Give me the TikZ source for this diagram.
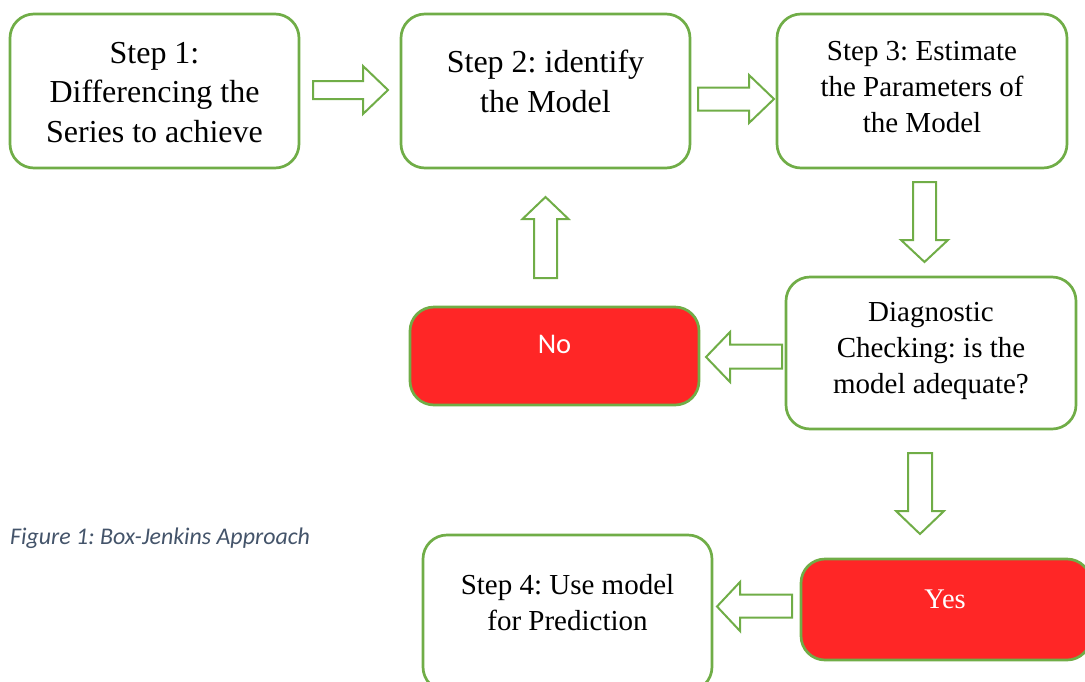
\documentclass[tikz,border=0pt]{standalone}
\usepackage{fontspec}
\setmainfont{Liberation Serif}
\newfontfamily\calibri{Carlito}
\definecolor{boxgreen}{HTML}{70AD47}
\definecolor{boxred}{HTML}{FF2626}
\definecolor{capblue}{HTML}{44546A}
\frenchspacing
\begin{document}
\begin{tikzpicture}[x=1pt,y=-1pt,
  box/.style={draw=boxgreen, line width=2.7pt, rounded corners=24pt, fill=white, inner sep=0pt},
  redbox/.style={box, fill=boxred},
  bigtxt/.style={align=center, inner sep=0pt, font=\fontsize{32}{39.5}\selectfont},
  smalltxt/.style={align=center, inner sep=0pt, font=\fontsize{29}{36}\selectfont},
  blockarrow/.style={draw=boxgreen, line width=2pt, fill=white, line join=miter}
]
\useasboundingbox (0,0) rectangle (1085,681);
\clip (0,0) rectangle (1085,681);

% boxes
\node[box, minimum width=289pt, minimum height=154pt] (s1) at (154.5,91) {};
\node[box, minimum width=289pt, minimum height=154pt] (s2) at (545.5,91) {};
\node[box, minimum width=290pt, minimum height=154pt] (s3) at (922,91) {};
\node[box, minimum width=290pt, minimum height=152pt] (diag) at (931,353) {};
\node[redbox, minimum width=289pt, minimum height=98pt] (no) at (554.5,356) {};
\node[redbox, minimum width=290pt, minimum height=101pt] (yes) at (946,609.5) {};
\node[box, minimum width=289pt, minimum height=156pt] (s4) at (567.5,613) {};

% texts (anchor=base is the baseline of the last line)
\node[bigtxt, anchor=base] (t1) at (154.5,142) {Step 1:\\Differencing the\\Series to achieve};
\node[bigtxt, anchor=base] (t2) at (545.5,112) {Step 2: identify\\the Model};
\node[smalltxt, anchor=base] (t3) at (922,132) {Step 3: Estimate\\the Parameters of\\the Model};
\node[smalltxt, anchor=base] (td) at (931,393) {Diagnostic\\Checking: is the\\model adequate?};
\node[smalltxt, anchor=base] (t4) at (567.5,630) {Step 4: Use model\\for Prediction};
\node[inner sep=0pt, anchor=base, text=white, font=\calibri\fontsize{28.5}{34}\selectfont] (tno) at (554.5,353) {No};
\node[inner sep=0pt, anchor=base, text=white, font=\fontsize{28.5}{34}\selectfont] (tyes) at (945,608) {Yes};
\node[inner sep=0pt, anchor=base west, text=capblue, font=\calibri\itshape\fontsize{23.9}{28}\selectfont] (cap) at (10,544) {Figure 1: Box-Jenkins Approach};

% block arrows
% s1 -> s2
\draw[blockarrow] (313,81) -- (363,81) -- (363,66) -- (388,90) -- (363,114) -- (363,99) -- (313,99) -- cycle;
% s2 -> s3
\draw[blockarrow] (698,87.5) -- (749,87.5) -- (749,75) -- (774,99) -- (749,123) -- (749,110.5) -- (698,110.5) -- cycle;
% s3 -> diag
\draw[blockarrow] (913,182) -- (936,182) -- (936,240) -- (948,240) -- (924.5,262) -- (901,240) -- (913,240) -- cycle;
% no -> s2
\draw[blockarrow] (534,278) -- (557,278) -- (557,219) -- (568.5,219) -- (545.5,197) -- (522.5,219) -- (534,219) -- cycle;
% diag -> no
\draw[blockarrow] (782,344.5) -- (730,344.5) -- (730,332) -- (706,357) -- (730,382) -- (730,368.5) -- (782,368.5) -- cycle;
% diag -> yes
\draw[blockarrow] (908,453) -- (932,453) -- (932,511) -- (944,511) -- (920,534) -- (896,511) -- (908,511) -- cycle;
% yes -> s4
\draw[blockarrow] (792,594.5) -- (740,594.5) -- (740,582) -- (717,606.5) -- (740,631) -- (740,617.5) -- (792,617.5) -- cycle;
\end{tikzpicture}
\end{document}
